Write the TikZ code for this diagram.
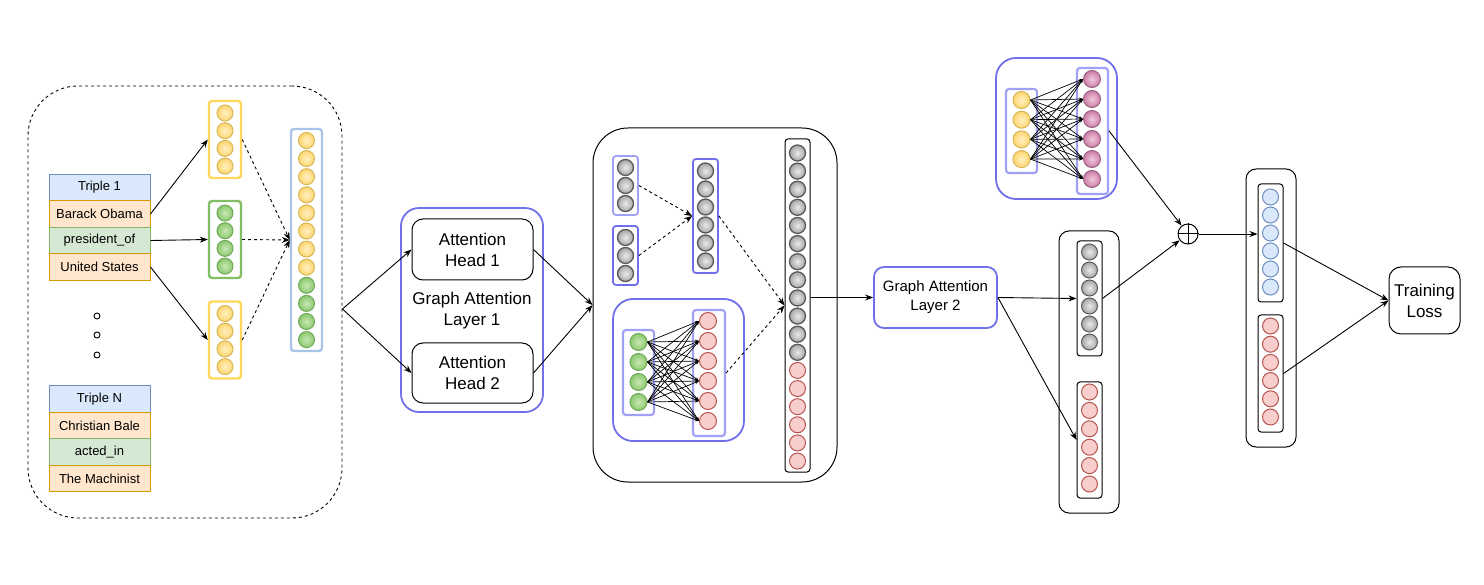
\documentclass[tikz,border=0pt]{standalone}
\usepackage{fontspec}
\setmainfont{Liberation Sans}
\usetikzlibrary{arrows.meta,shapes.geometric}
\definecolor{ybd}{RGB}{214,182,86}
\definecolor{ybox}{RGB}{255,214,90}
\definecolor{gbd}{RGB}{110,170,90}
\definecolor{gbox}{RGB}{130,190,100}
\definecolor{lblue}{RGB}{169,196,235}
\definecolor{purp}{RGB}{112,112,235}
\definecolor{lpurp}{RGB}{160,160,245}
\definecolor{hdrf}{RGB}{218,232,252}
\definecolor{hdrd}{RGB}{108,142,191}
\definecolor{orf}{RGB}{255,230,204}
\definecolor{ord}{RGB}{215,155,0}
\definecolor{grf}{RGB}{213,232,212}
\definecolor{grd}{RGB}{130,179,102}
\definecolor{redf}{RGB}{248,206,204}
\definecolor{redd}{RGB}{184,84,80}
\definecolor{bluf}{RGB}{218,232,252}
\definecolor{blud}{RGB}{108,142,191}
\definecolor{pinkd}{RGB}{153,97,133}
\tikzset{
  cir/.style={circle, minimum size=16pt, inner sep=0pt, line width=1pt},
  ycir/.style={cir, draw=ybd, inner color={rgb,255:red,255;green,240;blue,195}, outer color={rgb,255:red,255;green,214;blue,110}},
  gcir/.style={cir, draw=gbd, inner color={rgb,255:red,200;green,232;blue,180}, outer color={rgb,255:red,140;green,200;blue,110}},
  grcir/.style={cir, draw=black!65, line width=1.3pt, inner color=black!8, outer color=black!35},
  rcir/.style={cir, draw=redd, fill=redf},
  bcir/.style={cir, draw=blud, fill=bluf},
  pcir/.style={cir, draw=pinkd, inner color={rgb,255:red,240;green,200;blue,222}, outer color={rgb,255:red,205;green,125;blue,165}},
  vbox/.style={rectangle, rounded corners=3pt, inner sep=0pt, line width=2.4pt},
  tvbox/.style={rectangle, rounded corners=3pt, inner sep=0pt, line width=1pt, draw=black},
  grp/.style={rectangle, rounded corners=20pt, inner sep=0pt, line width=1.8pt, draw=purp},
  blk/.style={rectangle, rounded corners=11pt, inner sep=0pt, line width=1pt, draw=black},
  tabrow/.style={rectangle, minimum width=101pt, minimum height=26.5pt, inner sep=0pt, line width=1pt, font=\fontsize{13}{15}\selectfont},
  hdrrow/.style={tabrow, fill=hdrf, draw=hdrd},
  orangerow/.style={tabrow, fill=orf, draw=ord},
  greenrow/.style={tabrow, fill=grf, draw=grd},
  arr/.style={-{Stealth[length=8pt,width=6pt]}, line width=0.9pt},
  darr/.style={arr, dashed, dash pattern=on 3pt off 3pt},
  meshline/.style={-{Stealth[length=4pt,width=3pt]}, line width=0.7pt},
  bigtxt/.style={font=\fontsize{17}{21}\selectfont, align=center},
}
\begin{document}
\begin{tikzpicture}[x=1pt,y=-1pt]
\useasboundingbox (0,0) rectangle (1484,585);

% ---------- left dashed group ----------
\node[rectangle, rounded corners=50pt, draw, dashed, line width=0.9pt, minimum width=314pt, minimum height=432pt, inner sep=0pt] (dbox) at (185,302) {};
\coordinate (dtip) at ([yshift=-7pt]dbox.east);

\node[hdrrow]    (t1h) at (99.5,187.5) {Triple 1};
\node[orangerow] (t1s) at (99.5,214) {Barack Obama};
\node[greenrow]  (t1r) at (99.5,240.5) {president\_of};
\node[orangerow] (t1o) at (99.5,267) {United States};

\node[hdrrow]    (tnh) at (99.5,399) {Triple N};
\node[orangerow] (tns) at (99.5,425.5) {Christian Bale};
\node[greenrow]  (tnr) at (99.5,452) {acted\_in};
\node[orangerow] (tno) at (99.5,478.5) {The Machinist};

\foreach \yy [count=\i] in {316,335,355}
  \node[circle, draw, line width=0.9pt, minimum size=6pt, inner sep=0pt] (dot\i) at (97,\yy) {};

\node[vbox, draw=ybox, minimum width=32pt, minimum height=77pt] (ya) at (225,139.5) {};
\node[vbox, draw=gbox, minimum width=32pt, minimum height=77pt] (gb) at (225,239.5) {};
\node[vbox, draw=ybox, minimum width=32pt, minimum height=77pt] (yc) at (225,340) {};
\foreach \k in {0,...,3} {
  \node[ycir] (ya\k) at (225,{113+\k*17.7}) {};
  \node[gcir] (gb\k) at (225,{213+\k*17.7}) {};
  \node[ycir] (yc\k) at (225,{313.5+\k*17.7}) {};
}
\node[vbox, draw=lblue, minimum width=31pt, minimum height=222pt] (cat) at (306.5,240) {};
\foreach \k in {0,...,11} {
  \ifnum\k<8 \node[ycir] (cat\k) at (306.5,{140.5+\k*18.1}) {};
  \else \node[gcir] (cat\k) at (306.5,{140.5+\k*18.1}) {}; \fi
}
\draw[arr] (t1s.east) -- (ya.west);
\draw[arr] (t1r.east) -- (gb.west);
\draw[arr] (t1o.east) -- (yc.west);
\draw[darr] (ya.east) -- (cat.west);
\draw[darr] (gb.east) -- (cat.west);
\draw[darr] (yc.east) -- (cat.west);

% ---------- Graph attention layer 1 ----------
\node[grp, rounded corners=18pt, minimum width=142pt, minimum height=204pt] (gal1) at (472,310) {};
\node[blk, minimum width=121pt, minimum height=61pt, bigtxt] (ah1) at (472.5,249.5) {Attention\\Head 1};
\node[blk, minimum width=121pt, minimum height=60pt, bigtxt] (ah2) at (472.5,373) {Attention\\Head 2};
\node[bigtxt] (gal1t) at (472,311) {Graph Attention\\Layer 1};
\draw[arr] (dtip) -- (ah1.west);
\draw[arr] (dtip) -- (ah2.west);

% ---------- middle block ----------
\node[blk, rounded corners=35pt, minimum width=244pt, minimum height=354pt] (mid) at (715,305) {};
\draw[arr] (ah1.east) -- (mid.west);
\draw[arr] (ah2.east) -- (mid.west);

\node[vbox, line width=1.8pt, draw=lpurp, minimum width=25pt, minimum height=59pt] (v1) at (625.5,185.5) {};
\node[vbox, line width=1.8pt, draw=purp, minimum width=25pt, minimum height=59pt] (v2) at (625.5,255.5) {};
\foreach \k in {0,...,2} {
  \node[grcir] (v1\k) at (625.5,{167.5+\k*18}) {};
  \node[grcir] (v2\k) at (625.5,{237.5+\k*18}) {};
}
\node[vbox, line width=1.8pt, draw=purp, minimum width=25pt, minimum height=114pt] (v6) at (705.5,216) {};
\foreach \k in {0,...,5} \node[grcir] (v6\k) at (705.5,{171+\k*18}) {};
\draw[darr] (v1.east) -- (v6.west);
\draw[darr] (v2.east) -- (v6.west);

\node[grp, minimum width=131pt, minimum height=142pt] (ib) at (678.5,370) {};
\node[vbox, line width=2.2pt, draw=lpurp, minimum width=31pt, minimum height=85pt] (gv) at (638.5,372.5) {};
\node[vbox, line width=2.2pt, draw=lpurp, minimum width=32pt, minimum height=126pt] (rv) at (709,373) {};
\foreach \k in {0,...,3} \node[gcir, minimum size=17pt] (gv\k) at (638.5,{342+\k*20}) {};
\foreach \k in {0,...,5} \node[rcir, minimum size=17pt] (rv\k) at (708,{321+\k*20}) {};
\foreach \a in {0,...,3} \foreach \b in {0,...,5} \draw[meshline] (gv\a.east) -- (rv\b.west);

\node[tvbox, minimum width=25pt, minimum height=333pt] (col) at (797.5,305.5) {};
\foreach \k in {0,...,17} {
  \ifnum\k<12 \node[grcir] (col\k) at (797.5,{153+\k*18.12}) {};
  \else \node[rcir] (col\k) at (797.5,{153+\k*18.12}) {}; \fi
}
\draw[darr] (v6.east) -- (col.west);
\draw[darr] (rv.east) -- (col.west);

% ---------- Graph attention layer 2 ----------
\node[rectangle, rounded corners=10pt, draw=purp, line width=1.8pt, minimum width=123pt, minimum height=61pt, inner sep=0pt, font=\fontsize{15}{19}\selectfont, align=center] (gal2) at (935.5,297.5) {Graph Attention\\Layer 2};
\draw[arr] (col.east |- gal2.west) -- (gal2.west);

\node[blk, rounded corners=10pt, minimum width=60pt, minimum height=282pt] (ob2) at (1089,372) {};
\node[tvbox, minimum width=25pt, minimum height=115pt] (gv2) at (1089.5,298.5) {};
\node[tvbox, minimum width=25pt, minimum height=116pt] (rv2) at (1089.5,440) {};
\foreach \k in {0,...,5} {
  \node[grcir, line width=1pt] (gv2\k) at (1089.5,{252+\k*18}) {};
  \node[rcir] (rv2\k) at (1089.5,{392+\k*18.4}) {};
}
\draw[arr] (gal2.east) -- (gv2.west);
\draw[arr] (gal2.east) -- (rv2.west);

% ---------- top group ----------
\node[grp, minimum width=121pt, minimum height=141pt] (tb) at (1056.5,128.5) {};
\node[vbox, line width=2.2pt, draw=lpurp, minimum width=31pt, minimum height=84pt] (yv) at (1021.5,131) {};
\node[vbox, line width=2.2pt, draw=lpurp, minimum width=31pt, minimum height=126pt] (pv) at (1092.5,131) {};
\foreach \k in {0,...,3} \node[ycir, minimum size=17pt] (yv\k) at (1021.5,{100+\k*19.7}) {};
\foreach \k in {0,...,5} \node[pcir, minimum size=17pt] (pv\k) at (1092,{79+\k*20}) {};
\foreach \a in {0,...,3} \foreach \b in {0,...,5} \draw[meshline] (yv\a.east) -- (pv\b.west);

% ---------- combination ----------
\node[circle, draw, line width=1pt, minimum size=20pt, inner sep=0pt] (op) at (1188,234) {};
\draw[line width=1pt] (op.north) -- (op.south) (op.west) -- (op.east);
\draw[arr] (pv.east) -- (op);
\draw[arr] (gv2.east) -- (op);

\node[blk, rounded corners=10pt, minimum width=50pt, minimum height=278pt] (ob3) at (1271,308) {};
\node[tvbox, minimum width=25pt, minimum height=118pt] (bv) at (1270.5,243) {};
\node[tvbox, minimum width=25pt, minimum height=117pt] (rv3) at (1270.5,373.5) {};
\foreach \k in {0,...,5} {
  \node[bcir] (bv\k) at (1270.5,{197+\k*18}) {};
  \node[rcir] (rv3\k) at (1270.5,{326+\k*18.2}) {};
}
\draw[arr] (op.east) -- (op.east -| bv.west);

\node[blk, rounded corners=12pt, minimum width=71pt, minimum height=67pt, bigtxt] (tl) at (1424.5,300.5) {Training\\Loss};
\draw[arr] (bv.east) -- (tl.west);
\draw[arr] (rv3.east) -- (tl.west);
\end{tikzpicture}
\end{document}
